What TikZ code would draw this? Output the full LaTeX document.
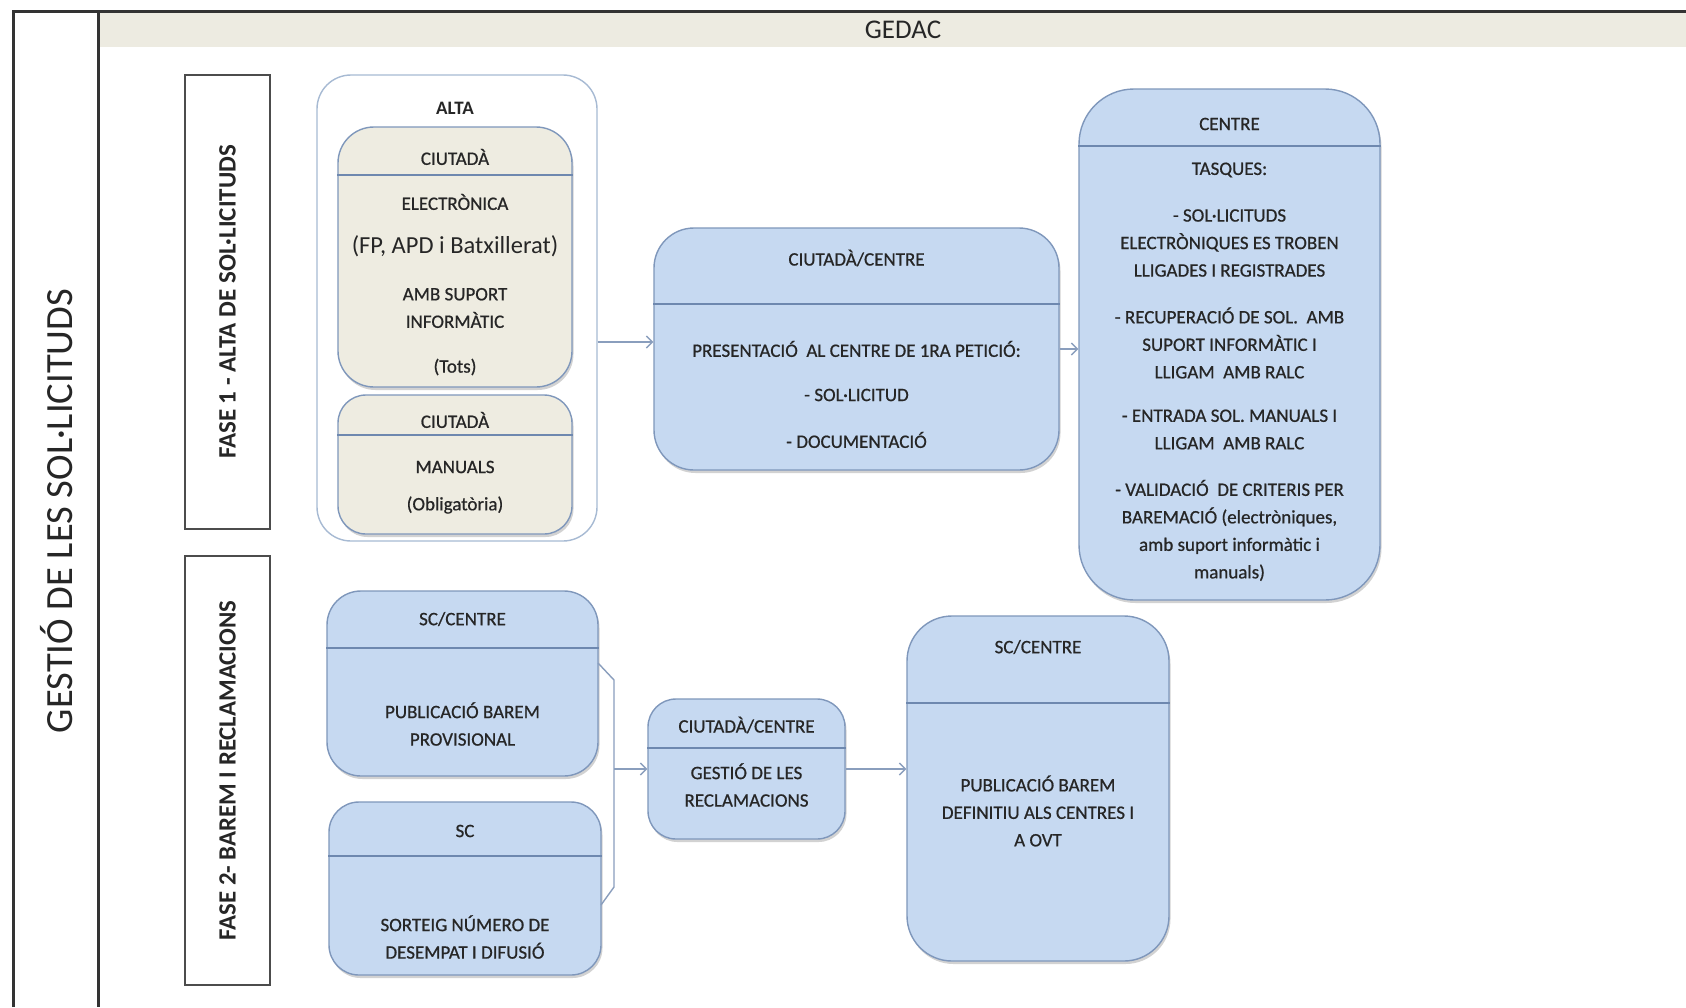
\documentclass[tikz,border=0pt]{standalone}
\usepackage{fontspec}
\setmainfont{Carlito}
\newfontfamily\boxfont[FakeBold=0.7]{Carlito}
\usetikzlibrary{shadows,arrows.meta,calc}
\definecolor{bfill}{HTML}{C6D9F1}
\definecolor{tfill}{HTML}{EEECE1}
\definecolor{bdraw}{HTML}{7F97BB}
\definecolor{divc}{HTML}{6E88AF}
\definecolor{arrc}{HTML}{8A9EBD}
\definecolor{txtc}{HTML}{262626}
\definecolor{band}{HTML}{EDEBE1}
\definecolor{altad}{HTML}{A7BAD3}
\tikzset{
  box/.style={draw=bdraw, line width=1.4pt, fill=bfill, rectangle, inner sep=0pt,
    drop shadow={opacity=0.35, shadow xshift=1.5pt, shadow yshift=-3pt}},
  tbox/.style={box, fill=tfill},
  fasebox/.style={draw=black!70, line width=1.6pt, fill=white, rectangle, inner sep=0pt},
  txt/.style={font=\boxfont\fontsize{19}{27.5}\selectfont, text=txtc, align=center, inner sep=0pt},
  divl/.style={draw=divc, line width=1.3pt},
  arr/.style={draw=arrc, line width=1.4pt, -{Straight Barb[length=6pt,width=12pt,line width=1.4pt]}},
  brk/.style={draw=arrc, line width=1.4pt},
  frame/.style={draw=black!80, line width=3pt}
}
\begin{document}
\begin{tikzpicture}[x=1pt,y=-1pt]
\useasboundingbox[fill=white] (0,0) rectangle (1686,1007);
% frame
\fill[band] (98,12) rectangle (1686,47);
\draw[frame] (13,1007) -- (13,11) -- (1686,11);
\draw[frame] (98,11) -- (98,1007);
\node[txt, font=\fontsize{27}{30}\selectfont] (gedac) at (903,30) {GEDAC};
\node[txt, font=\fontsize{38.5}{42}\selectfont, rotate=90] (gestio) at (57,511) {GESTIÓ DE LES SOL·LICITUDS};
% phase labels
\node[fasebox, minimum width=85pt, minimum height=454pt] (fase1) at (227.5,302) {};
\node[txt, font=\fontsize{25}{28}\selectfont\bfseries, rotate=90] (fase1t) at (fase1.center) {FASE 1 - ALTA DE SOL·LICITUDS};
\node[fasebox, minimum width=85pt, minimum height=429pt] (fase2) at (227.5,770.5) {};
\node[txt, font=\fontsize{24.8}{28}\selectfont\bfseries, rotate=90] (fase2t) at (fase2.center) {FASE 2- BAREM I RECLAMACIONS};
% ALTA group
\node[draw=altad, line width=1.4pt, fill=white, rounded corners=34pt, minimum width=280pt, minimum height=466pt, inner sep=0pt] (alta) at (457,308) {};
\node[txt, font=\fontsize{19}{22}\selectfont\bfseries] (altat) at (455,108) {ALTA};
\node[tbox, rounded corners=36pt, minimum width=234pt, minimum height=260pt] (ciu1) at (455,257) {};
\draw[divl] (ciu1.west |- 0,175) -- (ciu1.east |- 0,175);
\node[txt] (ciu1a) at (455,157) {CIUTADÀ};
\node[txt] (ciu1b) at (455,202) {ELECTRÒNICA};
\node[txt, font=\fontsize{24.5}{28}\selectfont] (ciu1c) at (455,246) {(FP, APD i Batxillerat)};
\node[txt] (ciu1d) at (455,308) {AMB SUPORT\\INFORMÀTIC};
\node[txt] (ciu1e) at (455,367) {(Tots)};
\node[tbox, rounded corners=28pt, minimum width=234pt, minimum height=139pt] (ciu2) at (455,464.5) {};
\draw[divl] (ciu2.west |- 0,435) -- (ciu2.east |- 0,435);
\node[txt] (ciu2a) at (455,420) {CIUTADÀ};
\node[txt] (ciu2b) at (455,467) {MANUALS};
\node[txt] (ciu2c) at (455,505) {(Obligatòria)};
% CIUTADA/CENTRE 1
\node[box, rounded corners=40pt, minimum width=405pt, minimum height=242pt] (cc1) at (856.5,349) {};
\draw[divl] (cc1.west |- 0,304) -- (cc1.east |- 0,304);
\node[txt] (cc1a) at (856.5,258) {CIUTADÀ/CENTRE};
\node[txt] (cc1b) at (856.5,349) {PRESENTACIÓ\ \ AL CENTRE DE 1RA PETICIÓ:};
\node[txt] (cc1c) at (856.5,395) {- SOL·LICITUD};
\node[txt] (cc1d) at (856.5,440) {- DOCUMENTACIÓ};
% CENTRE
\node[box, rounded corners=55pt, minimum width=301pt, minimum height=511pt] (centre) at (1229.5,344.5) {};
\draw[divl] (centre.west |- 0,146) -- (centre.east |- 0,146);
\node[txt] (cea) at (1229.5,124) {CENTRE};
\node[txt] (ceb) at (1229.5,170) {TASQUES:};
\node[txt] (cec) at (1229.5,243) {- SOL·LICITUDS\\ELECTRÒNIQUES ES TROBEN\\LLIGADES I REGISTRADES};
\node[txt] (ced) at (1229.5,343) {- RECUPERACIÓ DE SOL.\ \ AMB\\SUPORT INFORMÀTIC I\\LLIGAM\ \ AMB RALC};
\node[txt] (cee) at (1229.5,429.5) {- ENTRADA SOL. MANUALS I\\LLIGAM\ \ AMB RALC};
\node[txt] (cef) at (1229.5,530.5) {- VALIDACIÓ\ \ DE CRITERIS PER\\BAREMACIÓ (electròniques,\\amb suport informàtic i\\manuals)};
% Phase 2 boxes
\node[box, rounded corners=34pt, minimum width=271pt, minimum height=185pt] (sc1) at (462.5,683.5) {};
\draw[divl] (sc1.west |- 0,648) -- (sc1.east |- 0,648);
\node[txt] (sc1a) at (462.5,619) {SC/CENTRE};
\node[txt] (sc1b) at (462.5,724) {PUBLICACIÓ BAREM\\PROVISIONAL};
\node[box, rounded corners=30pt, minimum width=272pt, minimum height=173pt] (sc2) at (465,888.5) {};
\draw[divl] (sc2.west |- 0,856) -- (sc2.east |- 0,856);
\node[txt] (sc2a) at (465,831) {SC};
\node[txt] (sc2b) at (465,937) {SORTEIG NÚMERO DE\\DESEMPAT I DIFUSIÓ};
\node[box, rounded corners=28pt, minimum width=197pt, minimum height=140pt] (cc2) at (746.5,769) {};
\draw[divl] (cc2.west |- 0,748) -- (cc2.east |- 0,748);
\node[txt] (cc2a) at (746.5,725) {CIUTADÀ/CENTRE};
\node[txt] (cc2b) at (746.5,785) {GESTIÓ DE LES\\RECLAMACIONS};
\node[box, rounded corners=45pt, minimum width=262pt, minimum height=345pt] (sc3) at (1038,788.5) {};
\draw[divl] (sc3.west |- 0,703) -- (sc3.east |- 0,703);
\node[txt] (sc3a) at (1038,647) {SC/CENTRE};
\node[txt] (sc3b) at (1038,811) {PUBLICACIÓ BAREM\\DEFINITIU ALS CENTRES I\\A OVT};
% connectors
\coordinate (a1) at ($(cc1.west)+(0,-7)$);
\draw[arr] (a1 -| alta.east) -- (a1);
\draw[arr] (cc1.east) -- (cc1.east -| centre.west);
\coordinate (b1) at (598,663);
\coordinate (b2) at (614,680);
\coordinate (b3) at (614,887);
\coordinate (b4) at (601,905);
\draw[brk] (b1) -- (b2) -- (b3) -- (b4);
\draw[arr] (b2 |- cc2.west) -- (cc2.west);
\draw[arr] (cc2.east) -- (cc2.east -| sc3.west);
\end{tikzpicture}
\end{document}
